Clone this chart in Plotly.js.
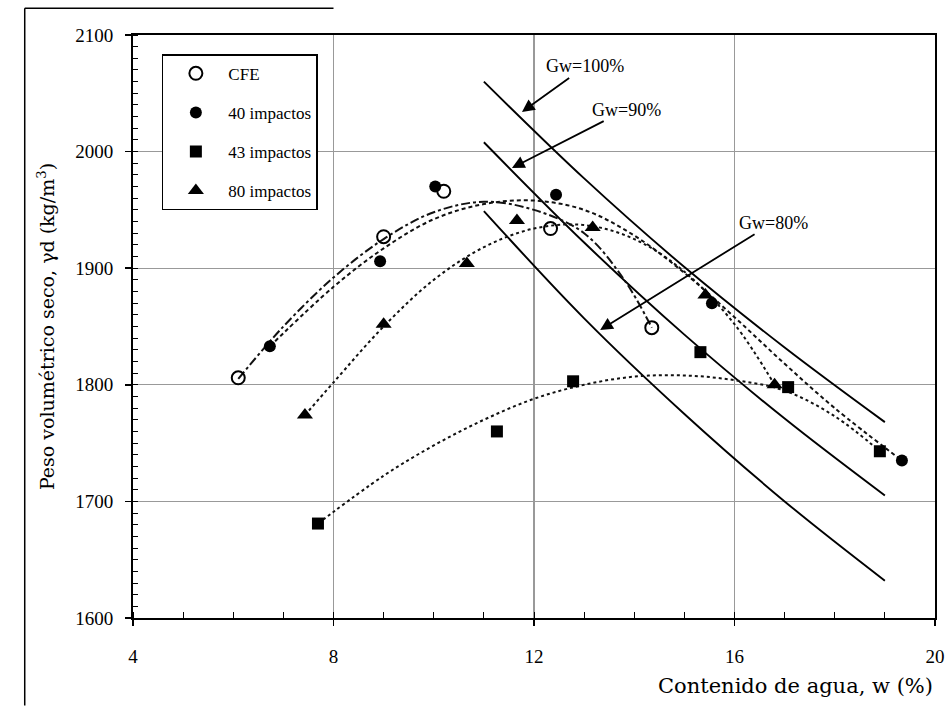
<!DOCTYPE html>
<html>
<head>
<meta charset="utf-8">
<script src="https://cdn.plot.ly/plotly-3.0.1.min.js"></script>
<style>html,body{margin:0;padding:0;background:#fff;}#chart{width:950px;height:707px;}</style>
</head>
<body>
<div id="chart"></div>
<script>
// ---- measured points ----
const cfeW = [6.1, 9.0, 10.2, 12.33, 14.35];
const cfeG = [1806, 1927, 1966, 1934, 1849];

const i40W = [6.73, 8.93, 10.03, 12.44, 15.55, 19.34];
const i40G = [1833, 1906, 1970, 1963, 1870, 1735];

const i43W = [7.69, 11.26, 12.78, 15.32, 17.07, 18.9];
const i43G = [1681, 1760, 1803, 1828, 1798, 1743];

const i80W = [7.43, 9.0, 10.66, 11.66, 13.17, 15.42, 16.8];
const i80G = [1774, 1852, 1904, 1941, 1935, 1877, 1800];

// ---- fitted (dotted) curves ----
const cfeFitW = [6.1, 7, 8, 9, 10, 11, 12, 13, 13.8, 14.35];
const cfeFitG = [1805, 1850, 1892, 1925, 1948, 1957, 1950, 1930, 1890, 1849];

const i40FitW = [6.73, 8, 9, 10, 11, 12, 13, 14, 15, 16, 17, 18, 19.34];
const i40FitG = [1833, 1884, 1917, 1942, 1955, 1958, 1950, 1928, 1896, 1858, 1818, 1780, 1735];

const i43FitW = [7.69, 9, 10, 11, 12, 13, 14, 15, 16, 17, 18, 18.9];
const i43FitG = [1681, 1722, 1748, 1770, 1788, 1800, 1807, 1808, 1804, 1795, 1773, 1743];

const i80FitW = [7.43, 8, 9, 10, 11, 12, 13, 14, 15, 16, 16.8];
const i80FitG = [1774, 1802, 1850, 1890, 1918, 1934, 1937, 1925, 1897, 1852, 1800];

// ---- saturation lines Gw ----
const satW = [11, 13, 15, 17, 19];
const sat100 = [2060, 1977, 1901, 1832, 1768];
const sat90 = [2008, 1922, 1843, 1771, 1705];
const sat80 = [1949, 1857, 1775, 1700, 1632];

const FONT = "Liberation Serif, DejaVu Serif, serif";
const TFONT = "DejaVu Serif, Liberation Serif, serif";

function fit(x, y, dash) {
  return {x: x, y: y, type: 'scatter', mode: 'lines', showlegend: false, hoverinfo: 'skip',
    line: {color: '#111', width: 2, dash: dash, shape: 'spline', smoothing: 1}};
}
function sat(y) {
  return {x: satW, y: y, type: 'scatter', mode: 'lines', showlegend: false, hoverinfo: 'skip',
    line: {color: '#000', width: 1.9, shape: 'spline', smoothing: 1}};
}
function pts(x, y, name, symbol, grp, size) {
  return {x: x, y: y, type: 'scatter', mode: 'markers', name: name, legendgroup: grp,
    marker: {symbol: symbol, size: size, color: '#000',
      line: {color: '#000', width: symbol === 'circle-open' ? 2 : 0}}};
}

const traces = [
  sat(sat100), sat(sat90), sat(sat80),
  fit(cfeFitW, cfeFitG, 'dashdot'),
  fit(i40FitW, i40FitG, '4px,3px'),
  fit(i43FitW, i43FitG, 'dot'),
  fit(i80FitW, i80FitG, 'dot'),
  pts(cfeW, cfeG, 'CFE', 'circle-open', 'a', 13),
  pts(i40W, i40G, '40 impactos', 'circle', 'b', 12),
  pts(i43W, i43G, '43 impactos', 'square', 'c', 12),
  pts(i80W, i80G, '80 impactos', 'triangle-up', 'd', 14)
];

function gw(x, y, lx, ly, t) {
  return {x: x, y: y, ax: lx, ay: ly, xref: 'x', yref: 'y', axref: 'x', ayref: 'y',
    text: t, showarrow: true, arrowhead: 2, arrowsize: 1.4, arrowwidth: 1.8, arrowcolor: '#000',
    font: {family: FONT, size: 18, color: '#000'}};
}

const layout = {
  width: 950, height: 707,
  margin: {l: 133, r: 15, t: 35, b: 89},
  paper_bgcolor: '#fff', plot_bgcolor: '#fff',
  font: {family: FONT, color: '#000'},
  xaxis: {
    range: [4, 20], tickvals: [4, 8, 12, 16, 20], ticktext: ['4', '8', '12', '16', '20'],
    showgrid: true, gridcolor: '#999', gridwidth: 1.2, zeroline: false,
    showline: true, linecolor: '#000', linewidth: 2, mirror: true,
    ticks: 'outside', ticklen: 6, tickwidth: 1.5, tickcolor: '#000',
    minor: {dtick: 1, ticks: 'inside', ticklen: 6, tickcolor: '#000', tickwidth: 1, showgrid: false},
    tickfont: {family: FONT, size: 19}, ticklabelstandoff: 14
  },
  yaxis: {
    range: [1600, 2100], tickvals: [1600, 1700, 1800, 1900, 2000, 2100],
    showgrid: true, gridcolor: '#999', gridwidth: 1.2, zeroline: false,
    showline: true, linecolor: '#000', linewidth: 2, mirror: true,
    ticks: 'outside', ticklen: 6, tickwidth: 1.5, tickcolor: '#000',
    minor: {dtick: 10, ticks: 'inside', ticklen: 5, tickcolor: '#000', tickwidth: 1, showgrid: false},
    tickfont: {family: FONT, size: 19}, ticklabelstandoff: 8,
    title: {text: 'Peso volumétrico seco, γd (kg/m<sup>3</sup>)', font: {family: TFONT, size: 19}, standoff: 16}
  },
  legend: {
    x: 0.036, y: 0.967, xanchor: 'left', yanchor: 'top',
    bgcolor: '#fff', bordercolor: '#000', borderwidth: 1.5,
    font: {family: FONT, size: 17, color: '#000'},
    tracegroupgap: 14, itemwidth: 55
  },
  annotations: [
    {x: 1, y: -0.117, xref: 'paper', yref: 'paper', xanchor: 'right', yanchor: 'middle',
      text: 'Contenido de agua, w (%)', showarrow: false, font: {family: TFONT, size: 21, color: '#000'}},
    gw(11.76, 2034, 13.02, 2073, 'Gw=100%'),
    gw(11.56, 1986, 13.84, 2036, 'Gw=90%'),
    gw(13.32, 1847, 16.77, 1939, 'Gw=80%')
  ],
  shapes: [
    {type: 'line', xref: 'paper', yref: 'paper', x0: -0.135, x1: -0.135, y0: 1.046, y1: -0.15, line: {color: '#000', width: 1.5}},
    {type: 'line', xref: 'paper', yref: 'paper', x0: -0.135, x1: 0.25, y0: 1.046, y1: 1.046, line: {color: '#000', width: 1.5}}
  ]
};

Plotly.newPlot('chart', traces, layout, {staticPlot: true, displayModeBar: false});
</script>
</body>
</html>
